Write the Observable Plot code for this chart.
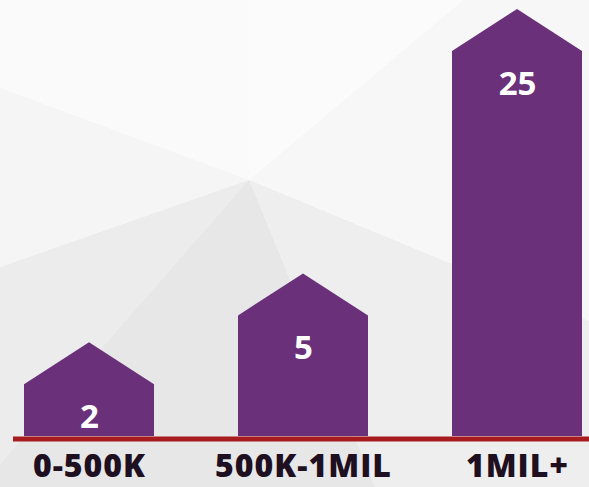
<!DOCTYPE html>
<html>
<head>
<meta charset="utf-8">
<script src="https://cdn.jsdelivr.net/npm/d3@7"></script>
<script src="https://cdn.jsdelivr.net/npm/@observablehq/plot@0.6"></script>
<style>
  html, body { margin: 0; padding: 0; background: #f5f5f5; }
  #chart {
    width: 589px; height: 487px; overflow: hidden;
    background: conic-gradient(from 0deg at 249px 180px,
      #fbfbfb 0deg 50deg, #f7f7f7 50deg 112.5deg, #eeeeee 112.5deg 157.7deg,
      #e7e7e7 157.7deg 221.2deg, #ececec 221.2deg 250.7deg,
      #f5f5f5 250.7deg 290.3deg, #fafafa 290.3deg 360deg);
  }
  #chart g[aria-label="x-axis tick label"] text { letter-spacing: 1px; }
</style>
</head>
<body>
<div id="chart"></div>
<script>
const categories = ["0-500K", "500K-1MIL", "1MIL+"];
const values = [2, 5, 25];

const data = categories.map((category, i) => ({category, value: values[i]}));

const purple = "#6a3079";
const roof = 42;

function houses(index, scales, vals) {
  const g = d3.create("svg:g");
  const bw = scales.x.bandwidth();
  for (const i of index) {
    const x0 = vals.x[i];
    const base = Math.max(vals.y1[i], vals.y2[i]);
    const top = Math.min(vals.y1[i], vals.y2[i]);
    const pts = [
      [x0, base], [x0, top + roof], [x0 + bw / 2, top],
      [x0 + bw, top + roof], [x0 + bw, base]
    ];
    g.append("path").attr("d", "M" + pts.join("L") + "Z").attr("fill", purple);
  }
  return g.node();
}

const chart = Plot.plot({
  width: 589,
  height: 487,
  marginLeft: 24,
  marginRight: 7,
  marginTop: 9,
  marginBottom: 51,
  style: {background: "transparent", fontFamily: "'Open Sans', sans-serif", overflow: "visible"},
  x: {domain: categories, paddingInner: 0.393, paddingOuter: 0, label: null},
  y: {type: "pow", exponent: 0.6, domain: [0, 25], axis: null},
  marks: [
    Plot.barY(data, {x: "category", y: "value", fill: purple, render: houses}),
    Plot.ruleY([0], {stroke: "#a81b1e", strokeWidth: 5, dy: 2.5, insetLeft: -11, insetRight: -7}),
    Plot.text(data, {x: "category", y: "value", text: d => String(d.value), dy: 75,
      fill: "white", fontSize: 33, fontWeight: 700}),
    Plot.axisX({tickSize: 0, tickPadding: 18, fontSize: 32, fontWeight: 800, color: "#1e1020", label: null})
  ]
});
document.getElementById("chart").appendChild(chart);
</script>
</body>
</html>
